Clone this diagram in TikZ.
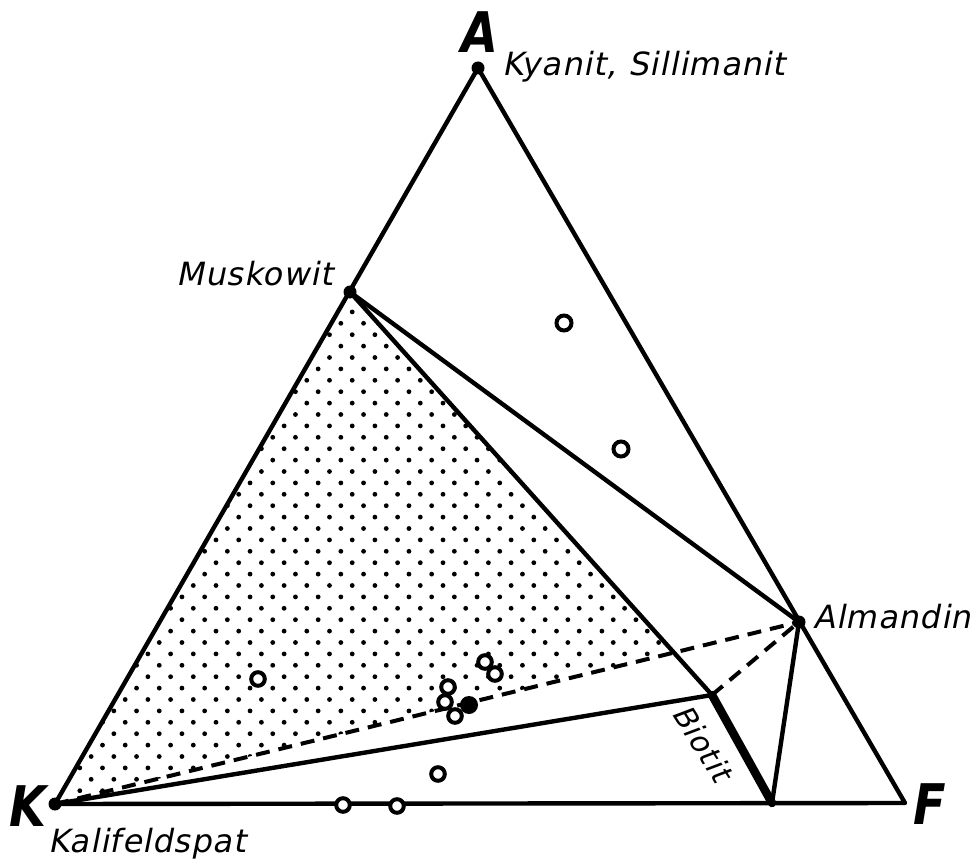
\documentclass[tikz,border=0pt]{standalone}
\usepackage{fontspec}
\setmainfont{DejaVu Sans}
\newfontfamily\lblfont[FakeSlant=0.2,LetterSpace=3]{DejaVu Sans}
\begin{document}
\begin{tikzpicture}[x=1pt,y=-1pt,
  edge/.style={line width=4.4pt,line cap=round,line join=round},
  thickedge/.style={line width=8.5pt,line cap=round},
  tie/.style={line width=4pt,dash pattern=on 14pt off 9pt},
  vdot/.style={fill=black},
  sample/.style={draw=black,fill=white,line width=4pt},
  lbl/.style={font=\lblfont\fontsize{32}{32}\selectfont,inner sep=0pt},
  corner/.style={font=\fontsize{56}{56}\selectfont\bfseries\itshape,inner sep=0pt,xscale=0.85}]
\useasboundingbox (0,0) rectangle (975,864);
\coordinate (A) at (478,68);
\coordinate (K) at (55,804);
\coordinate (F) at (905,803);
\coordinate (M) at (350,292);
\coordinate (Al) at (799,622);
\coordinate (B) at (712,695);
\coordinate (Bb) at (772,803);
\coordinate (P) at (intersection of M--B and K--Al);
% stipple
\begin{scope}
  \clip (K) -- (M) -- (P) -- cycle;
  \foreach \j in {-28,...,18}{
    \foreach \i in {-7,...,22}{
      \fill ({193.3+22.7*\i-11.35*mod(\j+100,2)},{608.3+11.4*\j}) circle (2.4pt);
    }
  }
\end{scope}
% lines
\draw[edge] (K) -- (A) -- (F) -- cycle;
\draw[edge] (M) -- (Al);
\draw[edge] (M) -- (B);
\draw[edge] (K) -- (B);
\draw[edge] (Al) -- (Bb);
\draw[thickedge] (B) -- (Bb);
\draw[tie] (K) -- (Al);
\draw[tie] (B) -- (Al);
% vertex dots
\foreach \p in {A,K,M,Al}{\fill[vdot] (\p) circle (6.5pt);}
% samples
\foreach \q in {(564,323),(621,449)}{
  \draw[sample] \q circle (7.5pt);
}
\foreach \q in {(258,679),(448,687),(445,702),(455,716),(485,662),(495,674),(343,805),(397,806),(438,774)}{
  \draw[sample] \q circle (6.8pt);
}
\fill[vdot] (469,705) coordinate (S) circle (9pt);
% labels
\node[corner] (lA) at (480,32) {A};
\node[corner] (lK) at (28,806) {K};
\node[corner] (lF) at (930,804) {F};
\node[lbl,anchor=base west] (tA) at (502,76) {Kyanit, Sillimanit};
\node[lbl,anchor=base east] (tM) at (333,285) {Muskowit};
\node[lbl,anchor=base west] (tAl) at (813,628) {Almandin};
\node[lbl,anchor=base west] (tK) at (48,852) {Kalifeldspat};
\node[lbl,font=\lblfont\fontsize{30}{30}\selectfont,rotate=-58] (tB) at (703,743) {Biotit};
\end{tikzpicture}
\end{document}
